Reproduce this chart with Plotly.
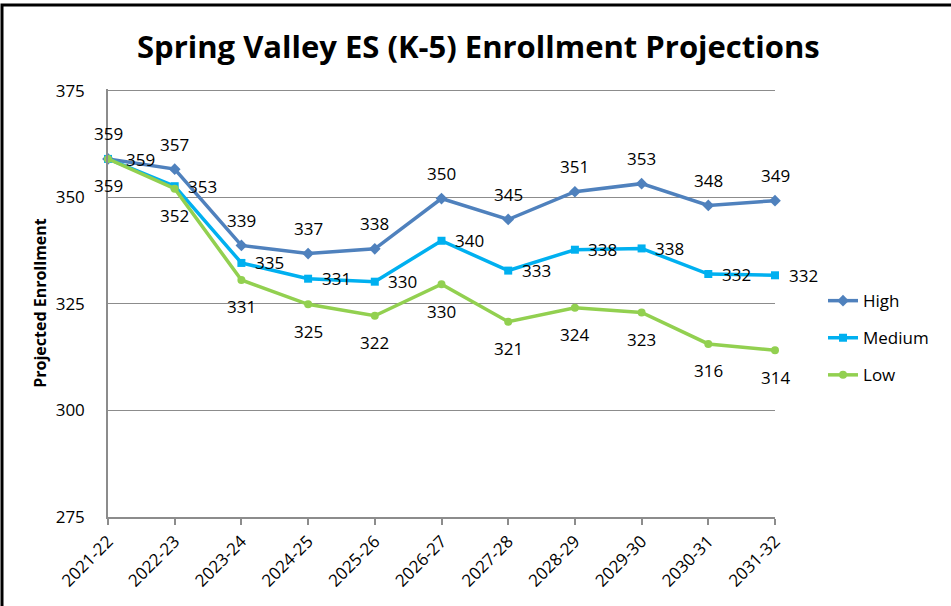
import plotly.graph_objects as go

years = ["2021-22", "2022-23", "2023-24", "2024-25", "2025-26", "2026-27",
         "2027-28", "2028-29", "2029-30", "2030-31", "2031-32"]
high = [359.0, 356.6, 338.7, 336.8, 337.9, 349.7, 344.8, 351.3, 353.2, 348.1, 349.2]
medium = [359.0, 352.6, 334.6, 330.9, 330.2, 339.8, 332.8, 337.7, 338.0, 332.0, 331.7]
low = [359.0, 352.0, 330.6, 324.9, 322.2, 329.6, 320.8, 324.1, 323.0, 315.6, 314.1]
y_ticks = [275, 300, 325, 350, 375]

FONT = "Open Sans"
C_HIGH = "#4F81BD"
C_MED = "#00B0F0"
C_LOW = "#92D050"
GRID = "#8C8C8C"

fig = go.Figure()
series = [
    ("High", high, C_HIGH, "diamond", 9),
    ("Medium", medium, C_MED, "square", 8),
    ("Low", low, C_LOW, "circle", 8),
]
for name, vals, col, sym, ms in series:
    fig.add_trace(go.Scatter(
        x=years, y=vals, name=name, mode="lines+markers",
        line=dict(color=col, width=3.5),
        marker=dict(symbol=sym, size=ms, color=col),
        legendgroup=name, cliponaxis=False,
    ))

annotations = []
def lab(x, y, xs, ys):
    annotations.append(dict(x=x, y=y, xref="x", yref="y", text=str(round(y)),
                            showarrow=False, xshift=xs, yshift=ys,
                            font=dict(family=FONT, size=17, color="black")))

for i, yr in enumerate(years):
    # High: above (first point to the right)
    if i == 0:
        lab(yr, high[i], 32, -1)
    else:
        lab(yr, high[i], 0, 25)
    # Medium: right (first point above)
    if i == 0:
        lab(yr, medium[i], 0, 25)
    else:
        lab(yr, medium[i], 28, 0)
    # Low: below
    lab(yr, low[i], 0, -27)

PH = 606 - 89 - 89  # plot height in px
fig.update_layout(
    width=951, height=606,
    margin=dict(l=108, r=176, t=89, b=89),
    paper_bgcolor="white", plot_bgcolor="white",
    font=dict(family=FONT, size=17, color="black"),
    title=dict(text="<b>Spring Valley ES (K-5) Enrollment Projections</b>",
               x=0.503, xanchor="center", y=0.923, yanchor="middle",
               font=dict(family=FONT, size=31, color="black")),
    showlegend=True,
    legend=dict(x=1.072, xanchor="left", y=0.418, yanchor="middle",
                font=dict(family=FONT, size=17), tracegroupgap=12,
                bgcolor="rgba(0,0,0,0)"),
    annotations=annotations,
    shapes=[dict(type="rect", xref="paper", yref="paper",
                 x0=(2 - 108) / 667, x1=(960 - 108) / 667,
                 y0=-0.5, y1=(517 - 5) / PH,
                 line=dict(color="black", width=3), layer="above")],
)
fig.update_xaxes(
    type="category", range=[0, 10], showgrid=False,
    showline=True, linecolor=GRID, linewidth=1.5,
    ticks="outside", ticklen=6, tickcolor=GRID, tickwidth=1.5,
    tickangle=-45, tickfont=dict(family=FONT, size=17),
)
fig.update_yaxes(
    range=[275, 375.4], tickvals=y_ticks, showgrid=True, gridcolor=GRID, gridwidth=1.2,
    showline=True, linecolor=GRID, linewidth=1.5, zeroline=False,
    ticks="", ticklabelstandoff=18, tickfont=dict(family=FONT, size=17),
    title=dict(text="<b>Projected Enrollment</b>", font=dict(family=FONT, size=16), standoff=5),
)

fig.write_html("out.html", config={"displayModeBar": False},
               post_script="document.body.style.margin='0px';")
